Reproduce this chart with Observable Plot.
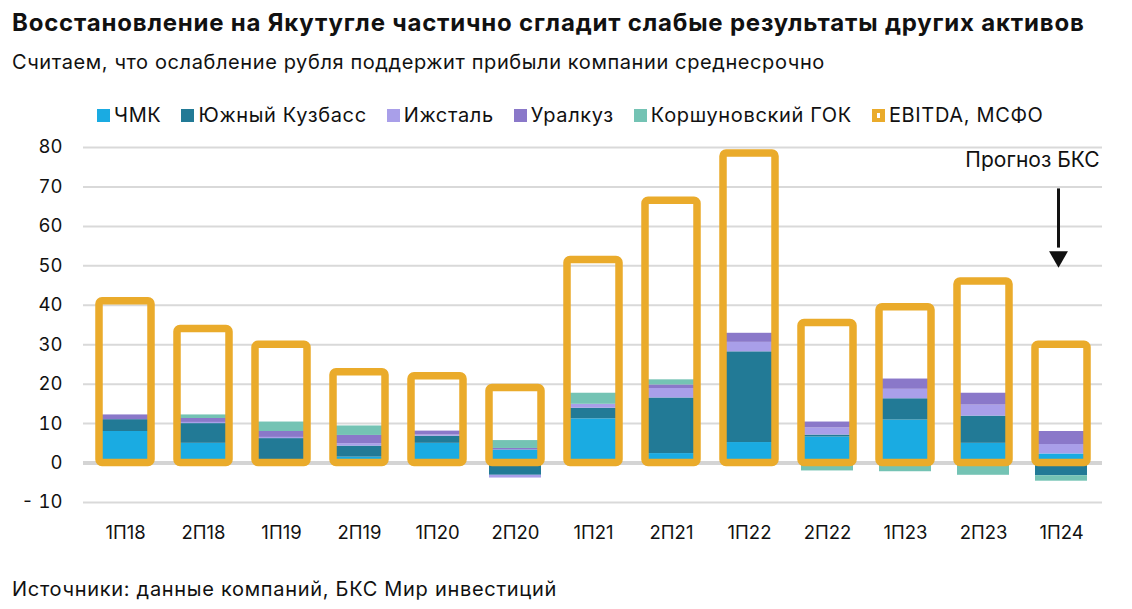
<!DOCTYPE html>
<html>
<head>
<meta charset="utf-8">
<script src="https://cdn.jsdelivr.net/npm/d3@7"></script>
<script src="https://cdn.jsdelivr.net/npm/@observablehq/plot@0.6"></script>
<style>
  html, body { margin: 0; padding: 0; background: #fff; }
  #wrap { position: relative; width: 1132px; height: 609px; overflow: hidden; font-family: Inter, "Noto Sans", sans-serif; color: #111; }
  .title { position: absolute; left: 12px; top: 8px; font-size: 24px; letter-spacing: 0.8px; font-weight: 700; white-space: nowrap; }
  .subtitle { position: absolute; left: 12px; top: 50px; font-size: 20px; letter-spacing: 0.6px; white-space: nowrap; }
  .legend { position: absolute; left: 97px; top: 103px; display: flex; align-items: center; font-size: 20px; letter-spacing: 0.65px; white-space: nowrap; }
  .legend .item { display: flex; align-items: center; margin-right: 20px; }
  .legend .sw { width: 13px; height: 13px; margin-right: 4px; box-sizing: border-box; }
  .footer { position: absolute; left: 12px; top: 577px; font-size: 20px; letter-spacing: 0.7px; white-space: nowrap; }
  #chart { position: absolute; left: 0; top: 0; }
</style>
</head>
<body>
<div id="wrap">
  <div id="chart"></div>
  <div class="title">Восстановление на Якутугле частично сгладит слабые результаты других активов</div>
  <div class="subtitle">Считаем, что ослабление рубля поддержит прибыли компании среднесрочно</div>
  <div class="legend" id="legend"></div>
  <div class="footer">Источники: данные компаний, БКС Мир инвестиций</div>
</div>
<script>
const categories = ["1П18","2П18","1П19","2П19","1П20","2П20","1П21","2П21","1П22","2П22","1П23","2П23","1П24"];
const seriesNames = ["ЧМК","Южный Кузбасс","Ижсталь","Уралкуз","Коршуновский ГОК"];
const seriesColors = ["#1aabe2","#227a96","#a99fe9","#8a78c9","#74c3b4"];
const chmk      = [8.0, 5.0, 0.0, 1.5, 5.0, 3.3, 11.2, 2.4, 5.2, 6.6, 10.9, 5.0, 2.3];
const yuzhKuzb  = [3.0, 5.0, 6.2, 2.8, 1.8, -3.1, 2.7, 14.1, 23.0, 0.5, 5.4, 6.9, -3.2];
const izhstal   = [0.0, 0.3, 0.3, 0.6, 0.3, -0.7, 1.0, 2.4, 2.4, 1.8, 2.4, 2.8, 2.4];
const uralkuz   = [1.2, 1.0, 1.5, 2.1, 1.0, 0.4, 0.0, 0.9, 2.3, 1.5, 2.6, 3.0, 3.3];
const korshGok  = [0.0, 0.9, 2.4, 2.4, 0.0, 2.0, 2.8, 1.3, 0.0, -2.0, -2.2, -3.1, -1.4];
const ebitda    = [41, 34, 30, 23, 22, 19, 51.5, 66.5, 78.5, 35.5, 39.5, 46, 30];
const ebitdaName = "EBITDA, МСФО";
const ebitdaColor = "#eaab2b";
const yTicks = [-10, 0, 10, 20, 30, 40, 50, 60, 70, 80];
const forecastLabel = "Прогноз БКС";
const forecastCategory = "1П24";
const forecastLabelY = 76.8;
const forecastArrow = [69.5, 54.5];
const forecastHeadY = 52.3;

const seriesValues = [chmk, yuzhKuzb, izhstal, uralkuz, korshGok];
const rows = [];
categories.forEach((c, i) => {
  seriesNames.forEach((s, j) => rows.push({cat: c, series: s, value: seriesValues[j][i]}));
});
const ebitdaRows = categories.map((c, i) => ({cat: c, value: ebitda[i]}));

// legend
const legend = document.getElementById("legend");
seriesNames.forEach((s, j) => {
  const it = document.createElement("div"); it.className = "item";
  it.innerHTML = `<div class="sw" style="background:${seriesColors[j]}"></div><span>${s}</span>`;
  legend.appendChild(it);
});
{
  const it = document.createElement("div"); it.className = "item";
  it.innerHTML = `<div class="sw" style="background:#fff;border:4px solid ${ebitdaColor};border-width:4px 5px"></div><span>${ebitdaName}</span>`;
  legend.appendChild(it);
}

const chart = Plot.plot({
  width: 1132,
  height: 609,
  marginTop: 147,
  marginBottom: 107,
  marginLeft: 83,
  marginRight: 30,
  style: {fontFamily: "Inter, 'Noto Sans', sans-serif", fontSize: "18px", color: "#111", background: "transparent"},
  x: {domain: categories, paddingInner: 0.337, paddingOuter: 0.1685, label: null},
  y: {domain: [-10, 80], label: null},
  color: {domain: seriesNames, range: seriesColors},
  marks: [
    Plot.ruleY(yTicks.filter(d => d !== 0), {stroke: "#d9d9d9", strokeWidth: 2}),
    Plot.barY(rows, {x: "cat", y: "value", fill: "series", order: seriesNames}),
    Plot.ruleY([0], {stroke: "#d4d4d4", strokeWidth: 4}),
    Plot.barY(ebitdaRows, {x: "cat", y: "value", fill: "none", stroke: ebitdaColor, strokeWidth: 7.5, rx: 3, strokeLinejoin: "round"}),
    Plot.axisY({ticks: yTicks, tickSize: 0, tickPadding: 21, tickFormat: d => d < 0 ? "- " + Math.abs(d) : String(d), fontSize: 18.5}),
    Plot.axisX({tickSize: 0, tickPadding: 23, fontSize: 18.5}),
    Plot.text([forecastLabel], {x: () => forecastCategory, y: () => forecastLabelY, text: d => d, textAnchor: "end", dx: 38, fontSize: 21, fill: "#111"}),
    Plot.ruleX([forecastCategory], {x: d => d, y1: () => forecastArrow[0], y2: () => forecastArrow[1], stroke: "#111", strokeWidth: 3, dx: -3}),
    Plot.dot([forecastCategory], {x: d => d, y: () => forecastHeadY, symbol: "triangle", rotate: 180, r: 7, fill: "#111", dx: -3})
  ]
});
document.getElementById("chart").appendChild(chart);
</script>
</body>
</html>
